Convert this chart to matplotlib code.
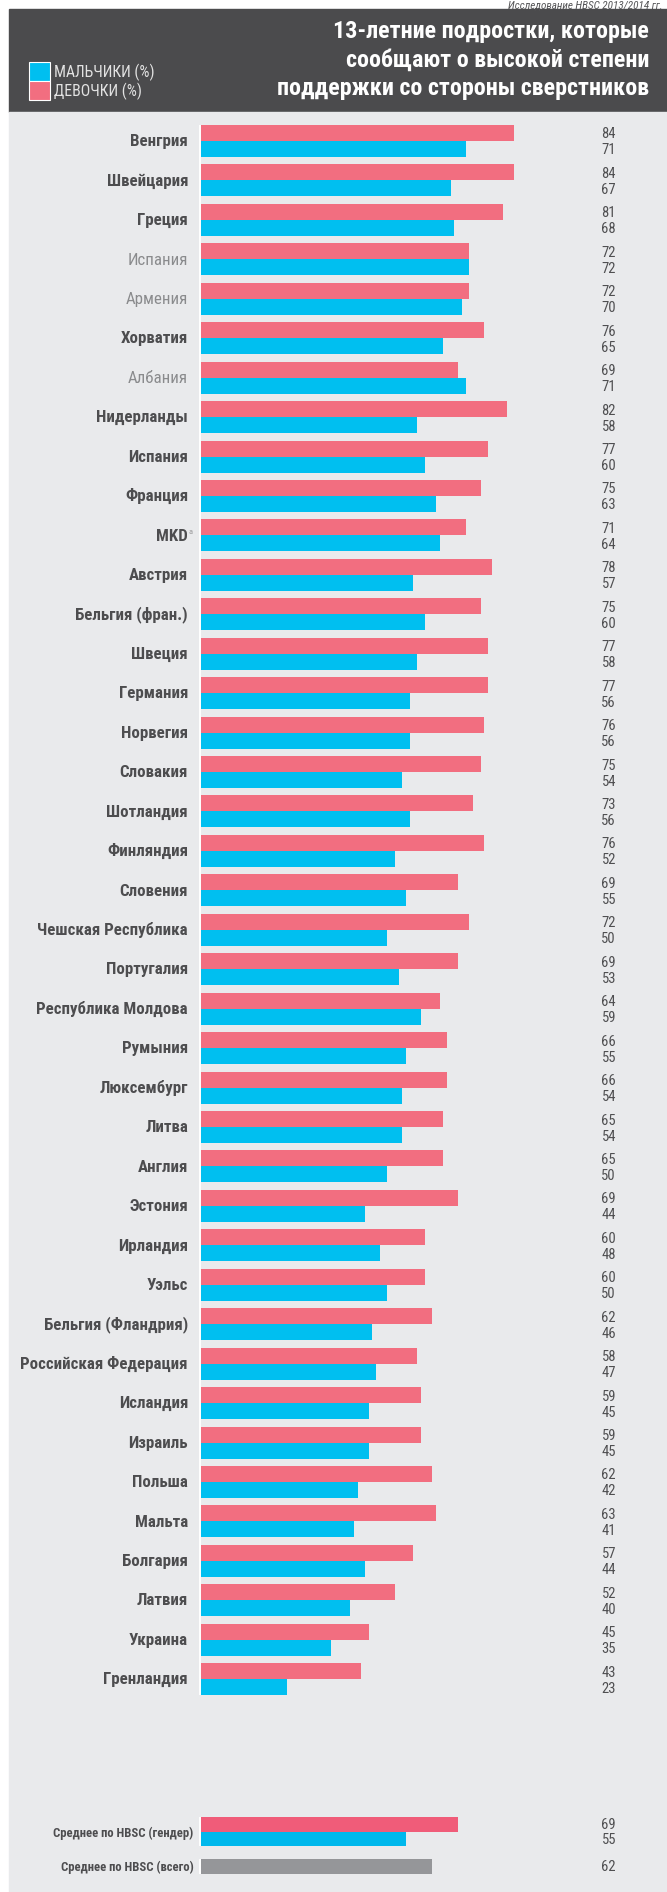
import matplotlib
matplotlib.use('Agg')
import matplotlib.pyplot as plt
from matplotlib import font_manager
from matplotlib.patches import Rectangle
from matplotlib.transforms import Affine2D

# --- data ---
countries = ['Венгрия', 'Швейцария', 'Греция', 'Испания', 'Армения', 'Хорватия', 'Албания',
             'Нидерланды', 'Испания', 'Франция', 'MKD', 'Австрия', 'Бельгия (фран.)', 'Швеция',
             'Германия', 'Норвегия', 'Словакия', 'Шотландия', 'Финляндия', 'Словения',
             'Чешская Республика', 'Португалия', 'Республика Молдова', 'Румыния', 'Люксембург',
             'Литва', 'Англия', 'Эстония', 'Ирландия', 'Уэльс', 'Бельгия (Фландрия)',
             'Российская Федерация', 'Исландия', 'Израиль', 'Польша', 'Мальта', 'Болгария',
             'Латвия', 'Украина', 'Гренландия']
girls = [84, 84, 81, 72, 72, 76, 69, 82, 77, 75, 71, 78, 75, 77, 77, 76, 75, 73, 76, 69,
         72, 69, 64, 66, 66, 65, 65, 69, 60, 60, 62, 58, 59, 59, 62, 63, 57, 52, 45, 43]
boys = [71, 67, 68, 72, 70, 65, 71, 58, 60, 63, 64, 57, 60, 58, 56, 56, 54, 56, 52, 55,
        50, 53, 59, 55, 54, 54, 50, 44, 48, 50, 46, 47, 45, 45, 42, 41, 44, 40, 35, 23]
muted_rows = [3, 4, 6]   # rows printed in light grey

avg_labels = ['Среднее по HBSC (гендер)', 'Среднее по HBSC (всего)']
avg_girls = 69
avg_boys = 55
avg_all = 62

title_lines = ['13-летние подростки, которые',
               'сообщают о высокой степени',
               'поддержки со стороны сверстников']
legend_labels = ['МАЛЬЧИКИ (%)', 'ДЕВОЧКИ (%)']
note = 'Исследование HBSC 2013/2014 гг.'

# --- style ---
PINK = '#f26e80'
PINK_AVG = '#f05c79'
BLUE = '#00bff0'
BLUE_AVG = '#00b8ec'
GREY = '#959699'
HEADER = '#4b4b4d'
PANEL = '#e9eaec'
LABEL = '#4d4d4f'
MUTED = '#8a8b8d'
VALUE = '#4f4f51'


def pick(*names):
    for n in names:
        try:
            font_manager.findfont(font_manager.FontProperties(family=n), fallback_to_default=False)
            return n
        except ValueError:
            pass
    return 'DejaVu Sans'


NARROW = pick('Liberation Sans Narrow', 'Roboto Condensed', 'DejaVu Sans')
plt.rcParams['font.family'] = [NARROW, 'DejaVu Sans']

W, H = 667, 1892
fig = plt.figure(figsize=(W / 100, H / 100), dpi=100)
ax = fig.add_axes([0, 0, 1, 1])

# x in percent, y in pixel rows from the top
ppu = 3.727
x0 = 201
ax.set_xlim(-x0 / ppu, (W - x0) / ppu)
ax.set_ylim(H, 0)
ax.axis('off')

# pixel transform (origin top-left)
pix = Affine2D().scale(1 / W, -1 / H).translate(0, 1) + fig.transFigure

# backgrounds
ax.add_patch(Rectangle((8.5, 9.5), W, 103, transform=pix, color=HEADER, zorder=0, clip_on=False))
ax.add_patch(Rectangle((8.5, 112), W, H, transform=pix, color=PANEL, zorder=0, clip_on=False))

# source note above the header
ax.text(663, 8.3, note, transform=pix, ha='right', va='baseline', fontsize=8,
        style='italic', color='#555557')

# title
for line, base in zip(title_lines, [38.3, 66.7, 95]):
    ax.text(649, base, line, transform=pix, ha='right', va='baseline', fontsize=17.3,
            fontweight='bold', color='white')

# legend
for lab, col, top in zip(legend_labels, [BLUE, PINK], [62, 81]):
    ax.add_patch(Rectangle((29, top), 21, 19, transform=pix, facecolor=col,
                           edgecolor='white', lw=0.8, zorder=3, clip_on=False))
    ax.text(53.5, top + 15.5, lab, transform=pix, ha='left', va='baseline',
            fontsize=11.3, color='#e2e2e2')

# country rows
step = 39.44
bh = 16
tops = [125 + i * step for i in range(len(countries))]
pink_y = [t + bh / 2 for t in tops]
blue_y = [t + bh * 1.5 for t in tops]

ax.barh(pink_y, girls, height=bh, color=PINK, zorder=2)
ax.barh(blue_y, boys, height=bh, color=BLUE, zorder=2)
ax.vlines(-0.35, tops[0], tops[-1] + 2 * bh, color='white', lw=1.4, zorder=2)

for i, name in enumerate(countries):
    mid = tops[i] + bh
    muted = i in muted_rows
    ax.text(188, mid + 5.2, name, transform=pix, ha='right', va='baseline',
            fontsize=12.2, fontweight='normal' if muted else 'bold',
            color=MUTED if muted else LABEL)
    if name == 'MKD':
        ax.text(188.8, mid - 6.5, 'a', transform=pix, ha='left', va='top',
                fontsize=6, color='#9a9a9c')
    ax.text(616, pink_y[i] + 5.5, str(girls[i]), transform=pix, ha='right',
            va='baseline', fontsize=10.5, color=VALUE)
    ax.text(616, blue_y[i] + 5.5, str(boys[i]), transform=pix, ha='right',
            va='baseline', fontsize=10.5, color=VALUE)

# HBSC averages
ah = 14.5
avg_top = 1817
ay_pink = avg_top + ah / 2
ay_blue = avg_top + ah * 1.5
ay_all = 1859 + ah / 2
ax.barh([ay_pink], [avg_girls], height=ah, color=PINK_AVG, zorder=2)
ax.barh([ay_blue], [avg_boys], height=ah, color=BLUE_AVG, zorder=2)
ax.barh([ay_all], [avg_all], height=ah, color=GREY, zorder=2)
ax.vlines(-0.35, avg_top, avg_top + 2 * ah, color='white', lw=1.4, zorder=2)
ax.vlines(-0.35, 1859, 1859 + ah, color='white', lw=1.4, zorder=2)

ax.text(193.5, avg_top + ah + 5, avg_labels[0], transform=pix, ha='right', va='baseline',
        fontsize=9.1, fontweight='bold', color=LABEL)
ax.text(193.5, ay_all + 5, avg_labels[1], transform=pix, ha='right', va='baseline',
        fontsize=9.1, fontweight='bold', color=LABEL)
for v, y in zip([avg_girls, avg_boys, avg_all], [ay_pink, ay_blue, ay_all]):
    ax.text(616, y + 5, str(v), transform=pix, ha='right', va='baseline',
            fontsize=10.5, color=VALUE)

fig.savefig('out.png', dpi=100, facecolor='white')
